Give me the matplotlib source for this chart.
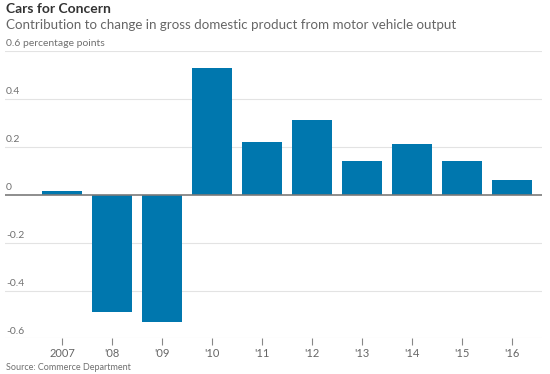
import numpy as np
import matplotlib
matplotlib.use("Agg")
import matplotlib.pyplot as plt

# Contribution to GDP change from motor vehicle output, percentage points
years = ["2007", "'08", "'09", "'10", "'11", "'12", "'13", "'14", "'15", "'16"]
contrib = [0.015, -0.49, -0.53, 0.53, 0.22, 0.31, 0.14, 0.21, 0.14, 0.06]
y_ticks = [-0.6, -0.4, -0.2, 0, 0.2, 0.4, 0.6]
y_labels = ["-0.6", "-0.4", "-0.2", "0", "0.2", "0.4", "0.6 percentage points"]

plt.rcParams['font.family'] = ['Lato', 'DejaVu Sans']

fig = plt.figure(figsize=(5.5, 3.74), dpi=100)
ax = fig.add_axes([0.009, 0.095, 0.976, 0.769])

x = np.arange(len(years))
ax.bar(x, contrib, width=0.8, color="#0077ae", zorder=2)

ax.set_xlim(-1.14, 9.59)
ax.set_ylim(-0.6, 0.6)

# gridlines with labels sitting on top, left aligned
for v, lab in zip(y_ticks, y_labels):
    if v == 0:
        ax.axhline(v, color="#7a7a7a", lw=1.2, zorder=3)
    else:
        ax.axhline(v, color="#e3e3e3", lw=0.8, zorder=1)
    ax.text(-1.12, v + 0.012, lab, fontsize=7.5, color="#707070",
            ha="left", va="bottom")

ax.set_yticks([])
ax.set_xticks(x)
ax.set_xticklabels(years, fontsize=8, color="#666666")
ax.tick_params(axis="x", length=5, width=0.8, color="#888888", pad=2)
for s in ax.spines.values():
    s.set_visible(False)

fig.text(0.011, 0.992, "Cars for Concern", fontsize=10, fontweight="bold",
         color="#333333", ha="left", va="top")
fig.text(0.011, 0.948, "Contribution to change in gross domestic product from motor vehicle output",
         fontsize=9.6, color="#666666", ha="left", va="top")
fig.text(0.011, 0.006, "Source: Commerce Department", fontsize=6.5,
         color="#707070", ha="left", va="bottom")

fig.savefig("out.png", dpi=100)
